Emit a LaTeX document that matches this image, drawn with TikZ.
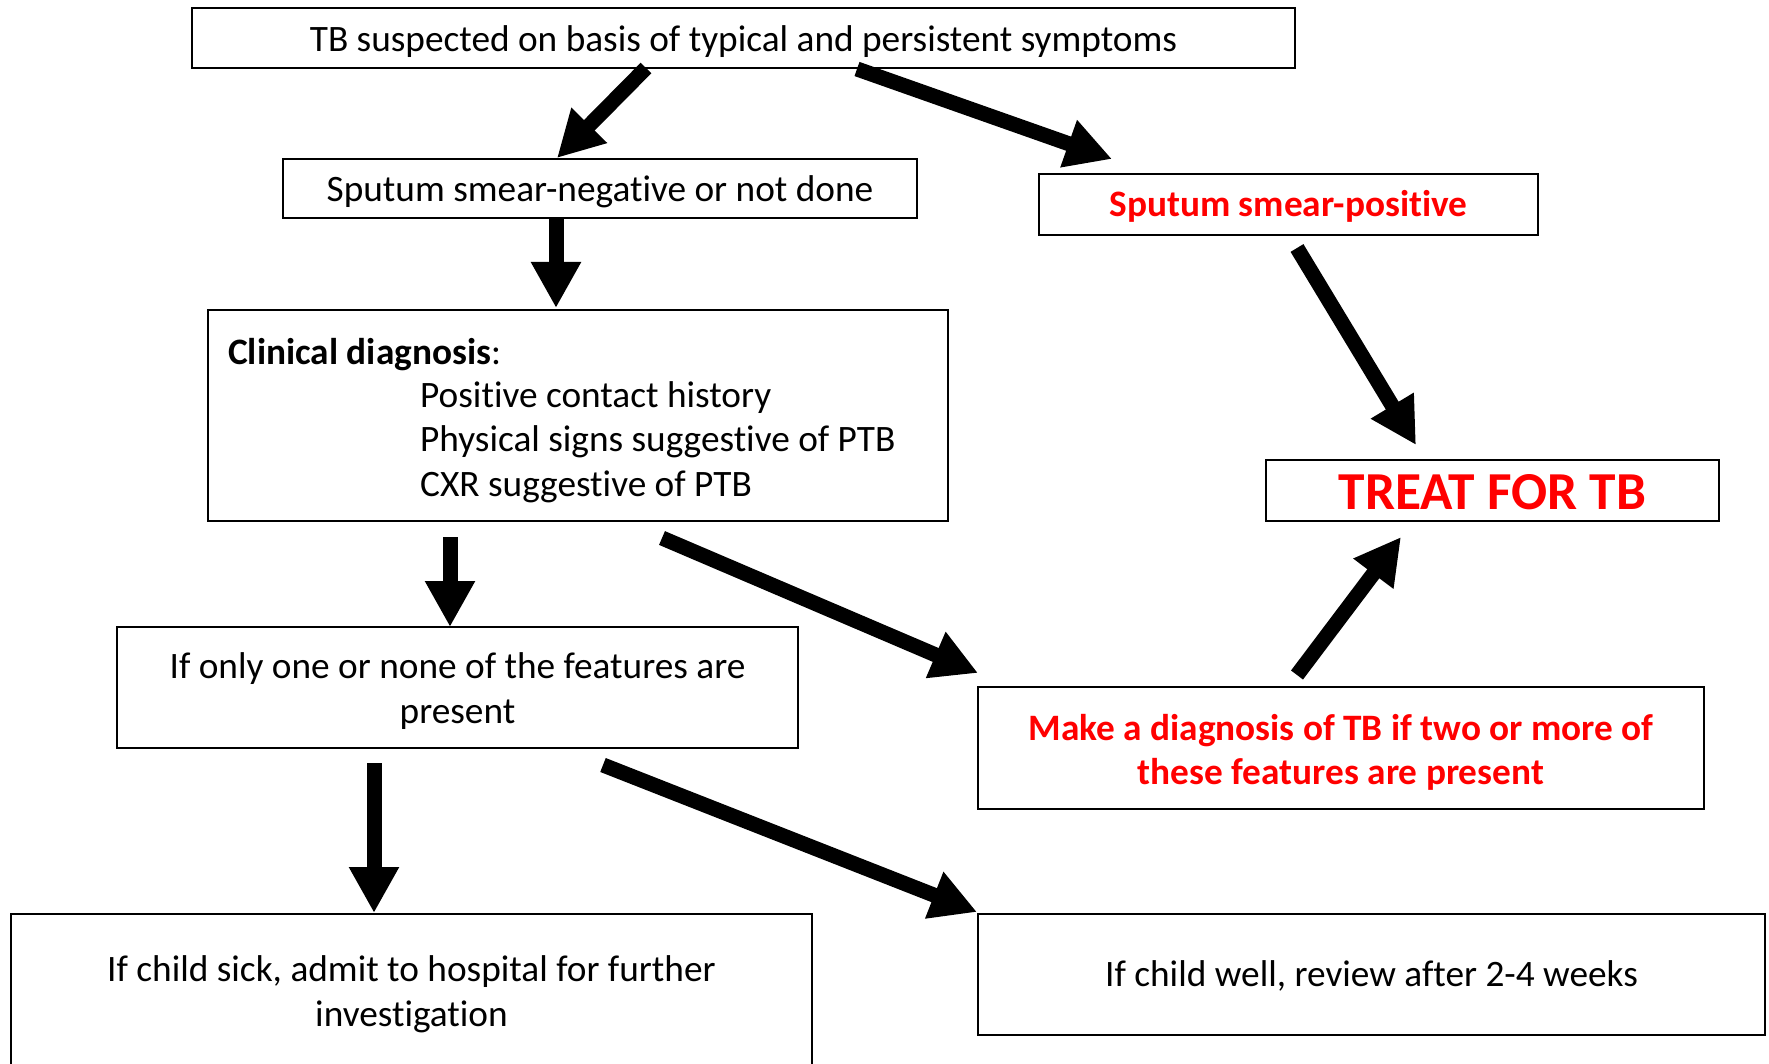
\documentclass[tikz,border=0pt]{standalone}
\usepackage{fontspec}
\setmainfont{Carlito}[Ligatures=NoCommon]
\usetikzlibrary{arrows.meta,calc}
\definecolor{tbred}{RGB}{255,0,0}
\newcommand\normaltxt{\fontsize{37.3}{44.5}\selectfont}
\newcommand\bigredtxt{\fontsize{53.4}{60}\selectfont\bfseries}
\newcommand\lowtxt[2]{\raisebox{-#1}[\height][\depth]{\begin{tabular}{@{}c@{}}#2\end{tabular}}}
\begin{document}
\begin{tikzpicture}[x=1pt,y=-1pt,
  box/.style={draw=black,line width=1.6pt,inner sep=0pt,align=center,font=\normaltxt},
  redbox/.style={box,text=tbred,font=\normaltxt\bfseries},
  blk/.style={line width=15pt,-{Triangle[length=46pt,width=47pt]}},
  lbl/.style={anchor=base west,inner sep=0pt,font=\normaltxt}
]
\fill[white] (0,0) rectangle (1769,1064);
\useasboundingbox (0,0) rectangle (1769,1064);

% boxes
\node[box,minimum width=1103pt,minimum height=60pt] (b1) at (743.5,38)
  {\lowtxt{4.5pt}{TB suspected on basis of typical and persistent symptoms}};
\node[box,minimum width=634pt,minimum height=59pt] (b2) at (600,188.5)
  {\lowtxt{4.5pt}{Sputum smear-negative or not done}};
\node[redbox,minimum width=499pt,minimum height=61pt] (b3) at (1288.5,204.5)
  {\lowtxt{3.5pt}{Sputum smear-positive}};
\node[box,minimum width=740pt,minimum height=211pt] (b4) at (578,415.5) {};
\node[box,text=tbred,font=\bigredtxt,minimum width=453pt,minimum height=61pt] (b5) at (1492.5,490.5)
  {\lowtxt{6.5pt}{TREAT FOR TB}};
\node[box,minimum width=681pt,minimum height=121pt] (b6) at (457.5,687.5)
  {\lowtxt{4.5pt}{If only one or none of the features are\\present}};
\node[redbox,minimum width=726pt,minimum height=122pt] (b7) at (1341,748)
  {\lowtxt{5.5pt}{Make a diagnosis of TB if two or more of\\these features are present}};
\node[box,minimum width=801pt,minimum height=156pt] (b8) at (411.5,992)
  {\lowtxt{3pt}{If child sick, admit to hospital for further\\investigation}};
\node[box,minimum width=787pt,minimum height=121pt] (b9) at (1371.5,974.5)
  {\lowtxt{3.5pt}{If child well, review after 2-4 weeks}};

% clinical diagnosis text
\node[lbl] (c0) at (228,364) {\textbf{Clinical diagnosis}:};
\node[lbl] (c1) at (420,407) {Positive contact history};
\node[lbl] (c2) at (420,451) {Physical signs suggestive of PTB};
\node[lbl] (c3) at (420,496) {CXR suggestive of PTB};

% arrow end points
\coordinate (a1s) at (646,68);   \coordinate (a1e) at (557,158);
\coordinate (a2s) at (857,69);   \coordinate (a2e) at (1112,159);
\coordinate (a3s) at (556,218);  \coordinate (a3e) at (556,308);
\coordinate (a4s) at (1297,248); \coordinate (a4e) at (1416,445);
\coordinate (a5s) at (450,537);  \coordinate (a5e) at (450,627);
\coordinate (a6s) at (662,538);  \coordinate (a6e) at (978,673);
\coordinate (a7s) at (1297,675); \coordinate (a7e) at (1401,537);
\coordinate (a8s) at (374,763);  \coordinate (a8e) at (374,913);
\coordinate (a9s) at (603,765);  \coordinate (a9e) at (977,912);

\draw[blk] (a1s) -- (a1e);
\draw[blk] (a2s) -- (a2e);
\draw[blk] (a3s) -- (a3e);
\draw[blk] (a4s) -- (a4e);
\draw[blk] (a5s) -- (a5e);
\draw[blk] (a6s) -- (a6e);
\draw[blk] (a7s) -- (a7e);
\draw[blk] (a8s) -- (a8e);
\draw[blk] (a9s) -- (a9e);
\end{tikzpicture}
\end{document}
